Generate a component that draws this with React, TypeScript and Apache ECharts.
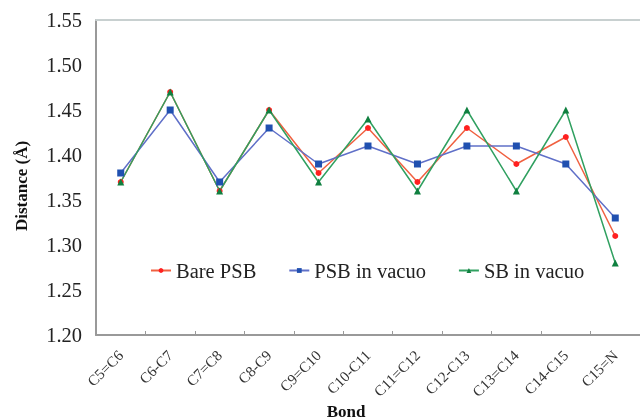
import React, { useEffect, useRef } from "react";
import * as echarts from "echarts";

const bonds = ["C5=C6", "C6-C7", "C7=C8", "C8-C9", "C9=C10", "C10-C11", "C11=C12", "C12-C13", "C13=C14", "C14-C15", "C15=N"];
const barePSB = [1.37, 1.47, 1.36, 1.45, 1.38, 1.43, 1.37, 1.43, 1.39, 1.42, 1.31];
const psbVacuo = [1.38, 1.45, 1.37, 1.43, 1.39, 1.41, 1.39, 1.41, 1.41, 1.39, 1.33];
const sbVacuo = [1.37, 1.47, 1.36, 1.45, 1.37, 1.44, 1.36, 1.45, 1.36, 1.45, 1.28];

const serif = "Liberation Serif";

export default function App() {
  const ref = useRef<HTMLDivElement>(null);
  useEffect(() => {
    if (!ref.current) return;
    const chart = echarts.init(ref.current, null, { renderer: "svg" });
    chart.setOption({
      animation: false,
      grid: { left: 96, top: 20, width: 554, height: 315, containLabel: false },
      legend: {
        left: 145,
        top: 255,
        itemGap: 32,
        itemWidth: 20,
        itemHeight: 6,
        textStyle: { fontFamily: serif, fontSize: 20.5, color: "#222" },
        data: ["Bare PSB", "PSB in vacuo", "SB in vacuo"],
      },
      graphic: [
        {
          type: "text",
          x: 21,
          y: 186,
          rotation: Math.PI / 2,
          style: {
            text: "Distance (Å)",
            fontFamily: serif,
            fontSize: 17,
            fontWeight: "bold",
            fill: "#111",
            align: "center",
            verticalAlign: "middle",
          },
        },
        {
          type: "text",
          x: 346,
          y: 411,
          style: {
            text: "Bond",
            fontFamily: serif,
            fontSize: 17,
            fontWeight: "bold",
            fill: "#111",
            align: "center",
            verticalAlign: "middle",
          },
        },
      ],
      xAxis: [
        {
          type: "category",
          data: bonds,
          boundaryGap: true,
          axisLine: { lineStyle: { color: "#999", width: 2 } },
          axisTick: { show: true, inside: true, length: 4, interval: 0, lineStyle: { color: "#999" } },
          axisLabel: { rotate: 45, interval: 0, fontFamily: serif, fontSize: 15, color: "#333", margin: 18 },
          splitLine: { show: false },
        },
        {
          type: "category",
          data: bonds,
          position: "top",
          axisLine: { lineStyle: { color: "#c8d0d0", width: 2 } },
          axisTick: { show: false },
          axisLabel: { show: false },
        },
      ],
      yAxis: {
        type: "value",
        min: 1.2,
        max: 1.55,
        interval: 0.05,
        axisLine: { show: true, lineStyle: { color: "#999", width: 2 } },
        axisTick: { show: false },
        splitLine: { show: false },
        axisLabel: {
          fontFamily: serif,
          fontSize: 20.5,
          color: "#222",
          margin: 14,
          formatter: (v: number) => v.toFixed(2),
        },
      },
      series: [
        {
          name: "Bare PSB",
          type: "line",
          data: barePSB,
          symbol: "circle",
          symbolSize: 6,
          lineStyle: { color: "#f06040", width: 1.5 },
          itemStyle: { color: "#ff2020" },
        },
        {
          name: "PSB in vacuo",
          type: "line",
          data: psbVacuo,
          symbol: "rect",
          symbolSize: 7,
          lineStyle: { color: "#6070c8", width: 1.5 },
          itemStyle: { color: "#2050b0" },
        },
        {
          name: "SB in vacuo",
          type: "line",
          data: sbVacuo,
          symbol: "triangle",
          symbolSize: 7,
          lineStyle: { color: "#30a060", width: 1.5 },
          itemStyle: { color: "#108040" },
        },
      ],
    });
    return () => chart.dispose();
  }, []);
  return <div ref={ref} style={{ position: "fixed", left: 0, top: 0, width: 640, height: 420 }} />;
}
